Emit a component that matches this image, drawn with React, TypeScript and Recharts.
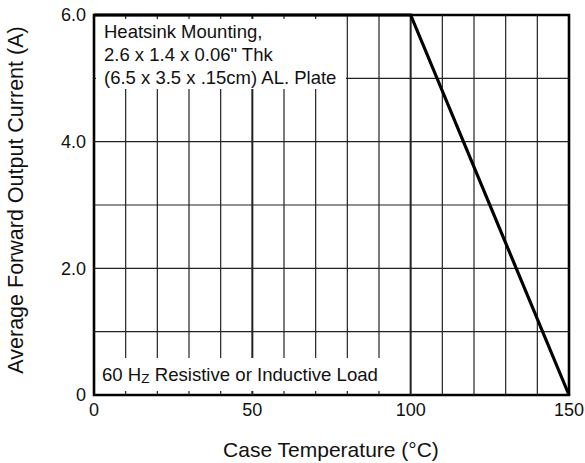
import { LineChart, Line, XAxis, YAxis, ReferenceLine, ReferenceArea } from "recharts";

const temps = [0, 100, 150];
const current = [6, 6, 0];
const xTicks = [0, 50, 100, 150];
const yTicks = [0, 2, 4, 6];
const xGrid = [10, 20, 30, 40, 50, 60, 70, 80, 90, 100, 110, 120, 130, 140];
const yGrid = [1, 2, 3, 4, 5];
const boxLines = ["Heatsink Mounting,", '2.6 x 1.4 x 0.06" Thk', "(6.5 x 3.5 x .15cm) AL. Plate"];

const data = temps.map((t, i) => ({ t, a: current[i] }));
const font = "'Liberation Sans', Arial, Helvetica, sans-serif";

export default function App() {
  return (
    <div style={{ position: "absolute", left: 0, top: 0, width: 585, height: 463, background: "#fff", fontFamily: font }}>
      <LineChart width={585} height={463} data={data} margin={{ top: 15, right: 16, bottom: 38, left: 34 }}>
        <XAxis
          dataKey="t"
          type="number"
          domain={[0, 150]}
          ticks={xTicks}
          axisLine={false}
          tickLine={false}
          height={30}
          tick={{ fontSize: 18, fill: "#111", fontFamily: font }}
        />
        <YAxis
          type="number"
          domain={[0, 6]}
          ticks={yTicks}
          axisLine={false}
          tickLine={false}
          width={60}
          tickFormatter={(v: number) => (v === 0 ? "0" : v.toFixed(1))}
          tick={{ fontSize: 18, fill: "#111", fontFamily: font }}
        />
        {xGrid.map((x) => (
          <ReferenceLine key={"x" + x} x={x} stroke="#222" strokeWidth={x % 50 === 0 ? 2 : 1.2} />
        ))}
        {yGrid.map((y) => (
          <ReferenceLine key={"y" + y} y={y} stroke="#222" strokeWidth={1.2} />
        ))}
        <Line type="linear" dataKey="a" stroke="#000" strokeWidth={3.2} dot={false} isAnimationActive={false} />
        <ReferenceArea x1={0} x2={150} y1={0} y2={6} fill="none" stroke="#000" strokeWidth={2.6} />
      </LineChart>
      <svg width={585} height={463} style={{ position: "absolute", left: 0, top: 0, pointerEvents: "none" }}>
        <rect x={96} y={19} width={250} height={70} fill="#fff" />
        <rect x={96} y={358} width={287} height={33} fill="#fff" />
        {boxLines.map((s, i) => (
          <text key={i} x={104} y={38 + i * 23} fontSize={18.5} fill="#111" fontFamily={font}>
            {s}
          </text>
        ))}
        <text x={102} y={381} fontSize={18.6} fill="#111" fontFamily={font}>
          60 H<tspan fontSize={13.5} dy={2}>Z</tspan>
          <tspan dy={-2}> Resistive or Inductive Load</tspan>
        </text>
        <text x={331} y={457} fontSize={21} fill="#111" textAnchor="middle" fontFamily={font}>
          Case Temperature (°C)
        </text>
        <text x={23} y={200} fontSize={21.5} fill="#111" textAnchor="middle" fontFamily={font} transform="rotate(-90 23 200)">
          Average Forward Output Current (A)
        </text>
      </svg>
    </div>
  );
}
